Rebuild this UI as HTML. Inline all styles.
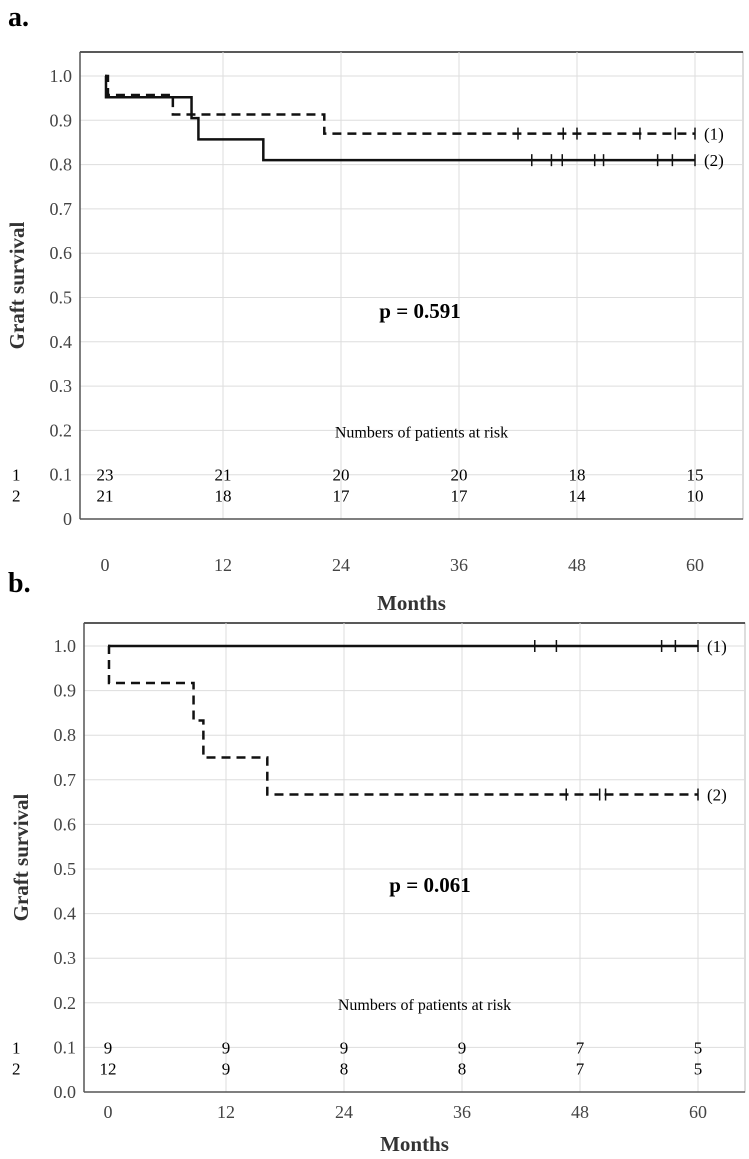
<!DOCTYPE html>
<html><head><meta charset="utf-8"><style>
html,body{margin:0;padding:0;background:#fff}
svg{display:block;font-family:"Liberation Serif","DejaVu Serif",serif}
svg text{font-family:"Liberation Serif","DejaVu Serif",serif}
</style></head><body>
<svg id="s" width="749" height="1159" viewBox="0 0 749 1159" font-family="Liberation Serif, serif"></svg>
<script>
const xTicks=[0,12,24,36,48,60];
const yTickLabelsA=["0","0.1","0.2","0.3","0.4","0.5","0.6","0.7","0.8","0.9","1.0"];
const yTickLabelsB=["0.0","0.1","0.2","0.3","0.4","0.5","0.6","0.7","0.8","0.9","1.0"];
// panel a
const aS1Times=[0,0.3,6.9,22.3,60];
const aS1Vals=[1.0,0.957,0.913,0.87,0.87];
const aS1Cens=[42,46.6,48,54.4,58,60];
const aS2Times=[0,0.1,8.8,9.5,16.1,60];
const aS2Vals=[1.0,0.952,0.905,0.857,0.81,0.81];
const aS2Cens=[43.4,45.4,46.5,49.8,50.7,56.2,57.7,60];
const aRisk1=[23,21,20,20,18,15];
const aRisk2=[21,18,17,17,14,10];
// panel b
const bS1Times=[0,60];
const bS1Vals=[1.0,1.0];
const bS1Cens=[43.4,45.6,56.3,57.7,60];
const bS2Times=[0,0.1,8.7,9.7,16.2,60];
const bS2Vals=[1.0,0.917,0.833,0.75,0.667,0.667];
const bS2Cens=[46.6,50,50.6,60];
const bRisk1=[9,9,9,9,7,5];
const bRisk2=[12,9,8,8,7,5];

const svg=document.getElementById('s');
const NS="http://www.w3.org/2000/svg";
const FF='Liberation Serif, DejaVu Serif, serif';
function mk(tag,attrs,name,text){
  const e=document.createElementNS(NS,tag);
  for(const k in attrs)e.setAttribute(k,attrs[k]);
  if(tag==='text')e.setAttribute('font-family',FF);
  
  
  if(text!==undefined)e.textContent=text;
  svg.appendChild(e);return e;
}
function panel(P){
  const X=m=>P.x0+m*P.xs, Y=v=>P.y0-v*P.ys;
  mk('text',{x:8,y:P.labelY,'font-size':28,'font-weight':'bold'},'panel-label',P.label);
  mk('rect',{x:P.left,y:P.top,width:P.right-P.left,height:P.y0-P.top,fill:'none',stroke:'#bbb','stroke-width':1},'plot-frame');
  mk('line',{x1:P.left,y1:P.top,x2:P.right,y2:P.top,stroke:'#222','stroke-width':1.5},'top-border');
  for(let i=0;i<=10;i++){
    const y=Y(i/10);
    if(i>0)mk('line',{x1:P.left,y1:y,x2:P.right,y2:y,stroke:'#ddd','stroke-width':1},'y-gridline');
    mk('text',{x:P.left-8,y:y+6,'font-size':18,'text-anchor':'end',fill:'#444'},'y-tick-label',P.yl[i]);
  }
  xTicks.forEach(t=>{
    const x=X(t);
    if(t>0)mk('line',{x1:x,y1:P.top,x2:x,y2:P.y0,stroke:'#ddd','stroke-width':1},'x-gridline');
    mk('text',{x:x,y:P.y0+P.tickOff,'font-size':18,'text-anchor':'middle',fill:'#444'},'x-tick-label',String(t));
  });
  mk('line',{x1:P.left,y1:P.top,x2:P.left,y2:P.y0,stroke:'#555','stroke-width':1.5},'y-axis-line');
  mk('line',{x1:P.left,y1:P.y0,x2:P.right,y2:P.y0,stroke:'#555','stroke-width':1.5},'x-axis-line');
  mk('text',{x:(P.left+P.right)/2,y:P.y0+P.titleOff,'font-size':21,'font-weight':'bold','text-anchor':'middle',fill:'#333'},'x-axis-title','Months');
  mk('text',{x:P.ytx,y:(P.top+P.y0)/2,'font-size':21,'font-weight':'bold','text-anchor':'middle',fill:'#333',transform:`rotate(-90 ${P.ytx} ${(P.top+P.y0)/2})`},'y-axis-title','Graft survival');
  P.series.forEach((s,si)=>{
    let d=`M${X(s.t[0])},${Y(s.v[0])}`;
    for(let i=1;i<s.t.length;i++){d+=` H${X(s.t[i])} V${Y(s.v[i])}`;}
    const a={d:d,fill:'none',stroke:'#111','stroke-width':2.5};
    if(s.dash)a['stroke-dasharray']='9,6';
    mk('path',a,'survival-curve-'+(si+1));
    s.c.forEach(c=>{
      const v=s.v[s.v.length-1];
      mk('line',{x1:X(c),y1:Y(v)-6,x2:X(c),y2:Y(v)+6,stroke:'#111','stroke-width':1.5},'censor-mark');
    });
    mk('text',{x:X(60)+9,y:Y(s.v[s.v.length-1])+6,'font-size':17},'curve-label','('+s.lab+')');
  });
  mk('text',{x:P.px,y:P.py,'font-size':21,'font-weight':'bold','text-anchor':'middle'},'p-value','p = '+P.p);
  mk('text',{x:(P.left+P.right)/2+10,y:Y(0.2)+7,'font-size':16,'text-anchor':'middle'},'risk-table-title','Numbers of patients at risk');
  mk('text',{x:12,y:Y(0.1)+6,'font-size':17},'risk-row-label','1');
  mk('text',{x:12,y:Y(0.1)+27,'font-size':17},'risk-row-label','2');
  xTicks.forEach((t,i)=>{
    mk('text',{x:X(t),y:Y(0.1)+6,'font-size':17,'text-anchor':'middle'},'risk-count-1',String(P.r1[i]));
    mk('text',{x:X(t),y:Y(0.1)+27,'font-size':17,'text-anchor':'middle'},'risk-count-2',String(P.r2[i]));
  });
}
panel({label:'a.',labelY:26,left:80,right:743,top:52,y0:519,ys:443,x0:105,xs:118/12,yl:yTickLabelsA,ytx:24,tickOff:52,titleOff:91,
  px:420,py:318,p:'0.591',r1:aRisk1,r2:aRisk2,
  series:[{t:aS1Times,v:aS1Vals,c:aS1Cens,dash:true,lab:1},{t:aS2Times,v:aS2Vals,c:aS2Cens,dash:false,lab:2}]});
panel({label:'b.',labelY:592,left:84,right:745,top:623,y0:1092,ys:446,x0:108,xs:118/12,yl:yTickLabelsB,ytx:28,tickOff:26,titleOff:59,
  px:430,py:892,p:'0.061',r1:bRisk1,r2:bRisk2,
  series:[{t:bS1Times,v:bS1Vals,c:bS1Cens,dash:false,lab:1},{t:bS2Times,v:bS2Vals,c:bS2Cens,dash:true,lab:2}]});
</script>
</body></html>
